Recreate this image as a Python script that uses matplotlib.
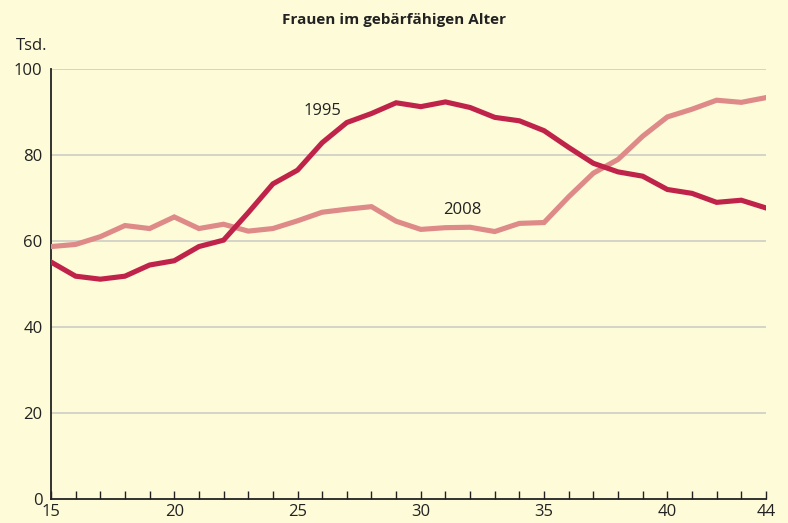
import numpy as np
import matplotlib.pyplot as plt

# --- data (thousands of women by age) ---
ages = list(range(15, 45))
women_1995 = [55.1, 51.8, 51.1, 51.8, 54.4, 55.4, 58.7, 60.2, 66.6, 73.3,
              76.5, 82.9, 87.6, 89.7, 92.2, 91.3, 92.4, 91.1, 88.8, 88.0,
              85.7, 81.8, 78.1, 76.1, 75.1, 72.0, 71.1, 69.0, 69.5, 67.7]
women_2008 = [58.7, 59.2, 61.0, 63.6, 62.9, 65.6, 62.9, 63.9, 62.3, 62.9,
              64.7, 66.7, 67.4, 68.0, 64.6, 62.7, 63.1, 63.2, 62.2, 64.1,
              64.3, 70.3, 75.8, 79.0, 84.4, 88.9, 90.7, 92.8, 92.3, 93.4]
x_ticks = [15, 20, 25, 30, 35, 40, 44]
y_ticks = [0, 20, 40, 60, 80, 100]

bg = '#FEFBD8'
c1995 = '#C0234A'
c2008 = '#DE8A88'

plt.rcParams['font.family'] = ['Open Sans', 'DejaVu Sans']

fig = plt.figure(figsize=(7.88, 5.23), dpi=100, facecolor=bg)
ax = fig.add_axes([0.0647, 0.0468, 0.9073, 0.8207], facecolor=bg)

# grid lines (no line at 0, the axis itself is there)
for y in y_ticks[1:]:
    ax.axhline(y, color='#C9C9C4', linewidth=1.1, zorder=1)

ax.plot(ages, women_2008, color=c2008, linewidth=3.7, zorder=3, solid_joinstyle='miter')
ax.plot(ages, women_1995, color=c1995, linewidth=3.7, zorder=4, solid_joinstyle='miter')

ax.text(26.0, 90.3, '1995', fontsize=12, color='#222222', ha='center', va='center')
ax.text(31.7, 67.2, '2008', fontsize=12, color='#222222', ha='center', va='center')

ax.set_xlim(15, 44)
ax.set_ylim(0, 100)
ax.set_xticks(x_ticks)
ax.set_xticks(ages, minor=True)
ax.set_yticks(y_ticks)
ax.tick_params(axis='x', which='both', direction='in', length=6, width=1.0,
               color='#222222', labelsize=12, labelcolor='#222222', pad=4)
ax.tick_params(axis='y', length=0, labelsize=12, labelcolor='#222222', pad=6)

for s in ['top', 'right']:
    ax.spines[s].set_visible(False)
for s in ['left', 'bottom']:
    ax.spines[s].set_color('#222222')
    ax.spines[s].set_linewidth(1.3)

fig.text(0.5, 0.962, 'Frauen im gebärfähigen Alter', fontsize=11,
         fontweight='bold', ha='center', va='center', color='#222222')
fig.text(0.02, 0.913, 'Tsd.', fontsize=12, ha='left', va='center', color='#222222')

fig.savefig('out.png', dpi=100, facecolor=bg)
